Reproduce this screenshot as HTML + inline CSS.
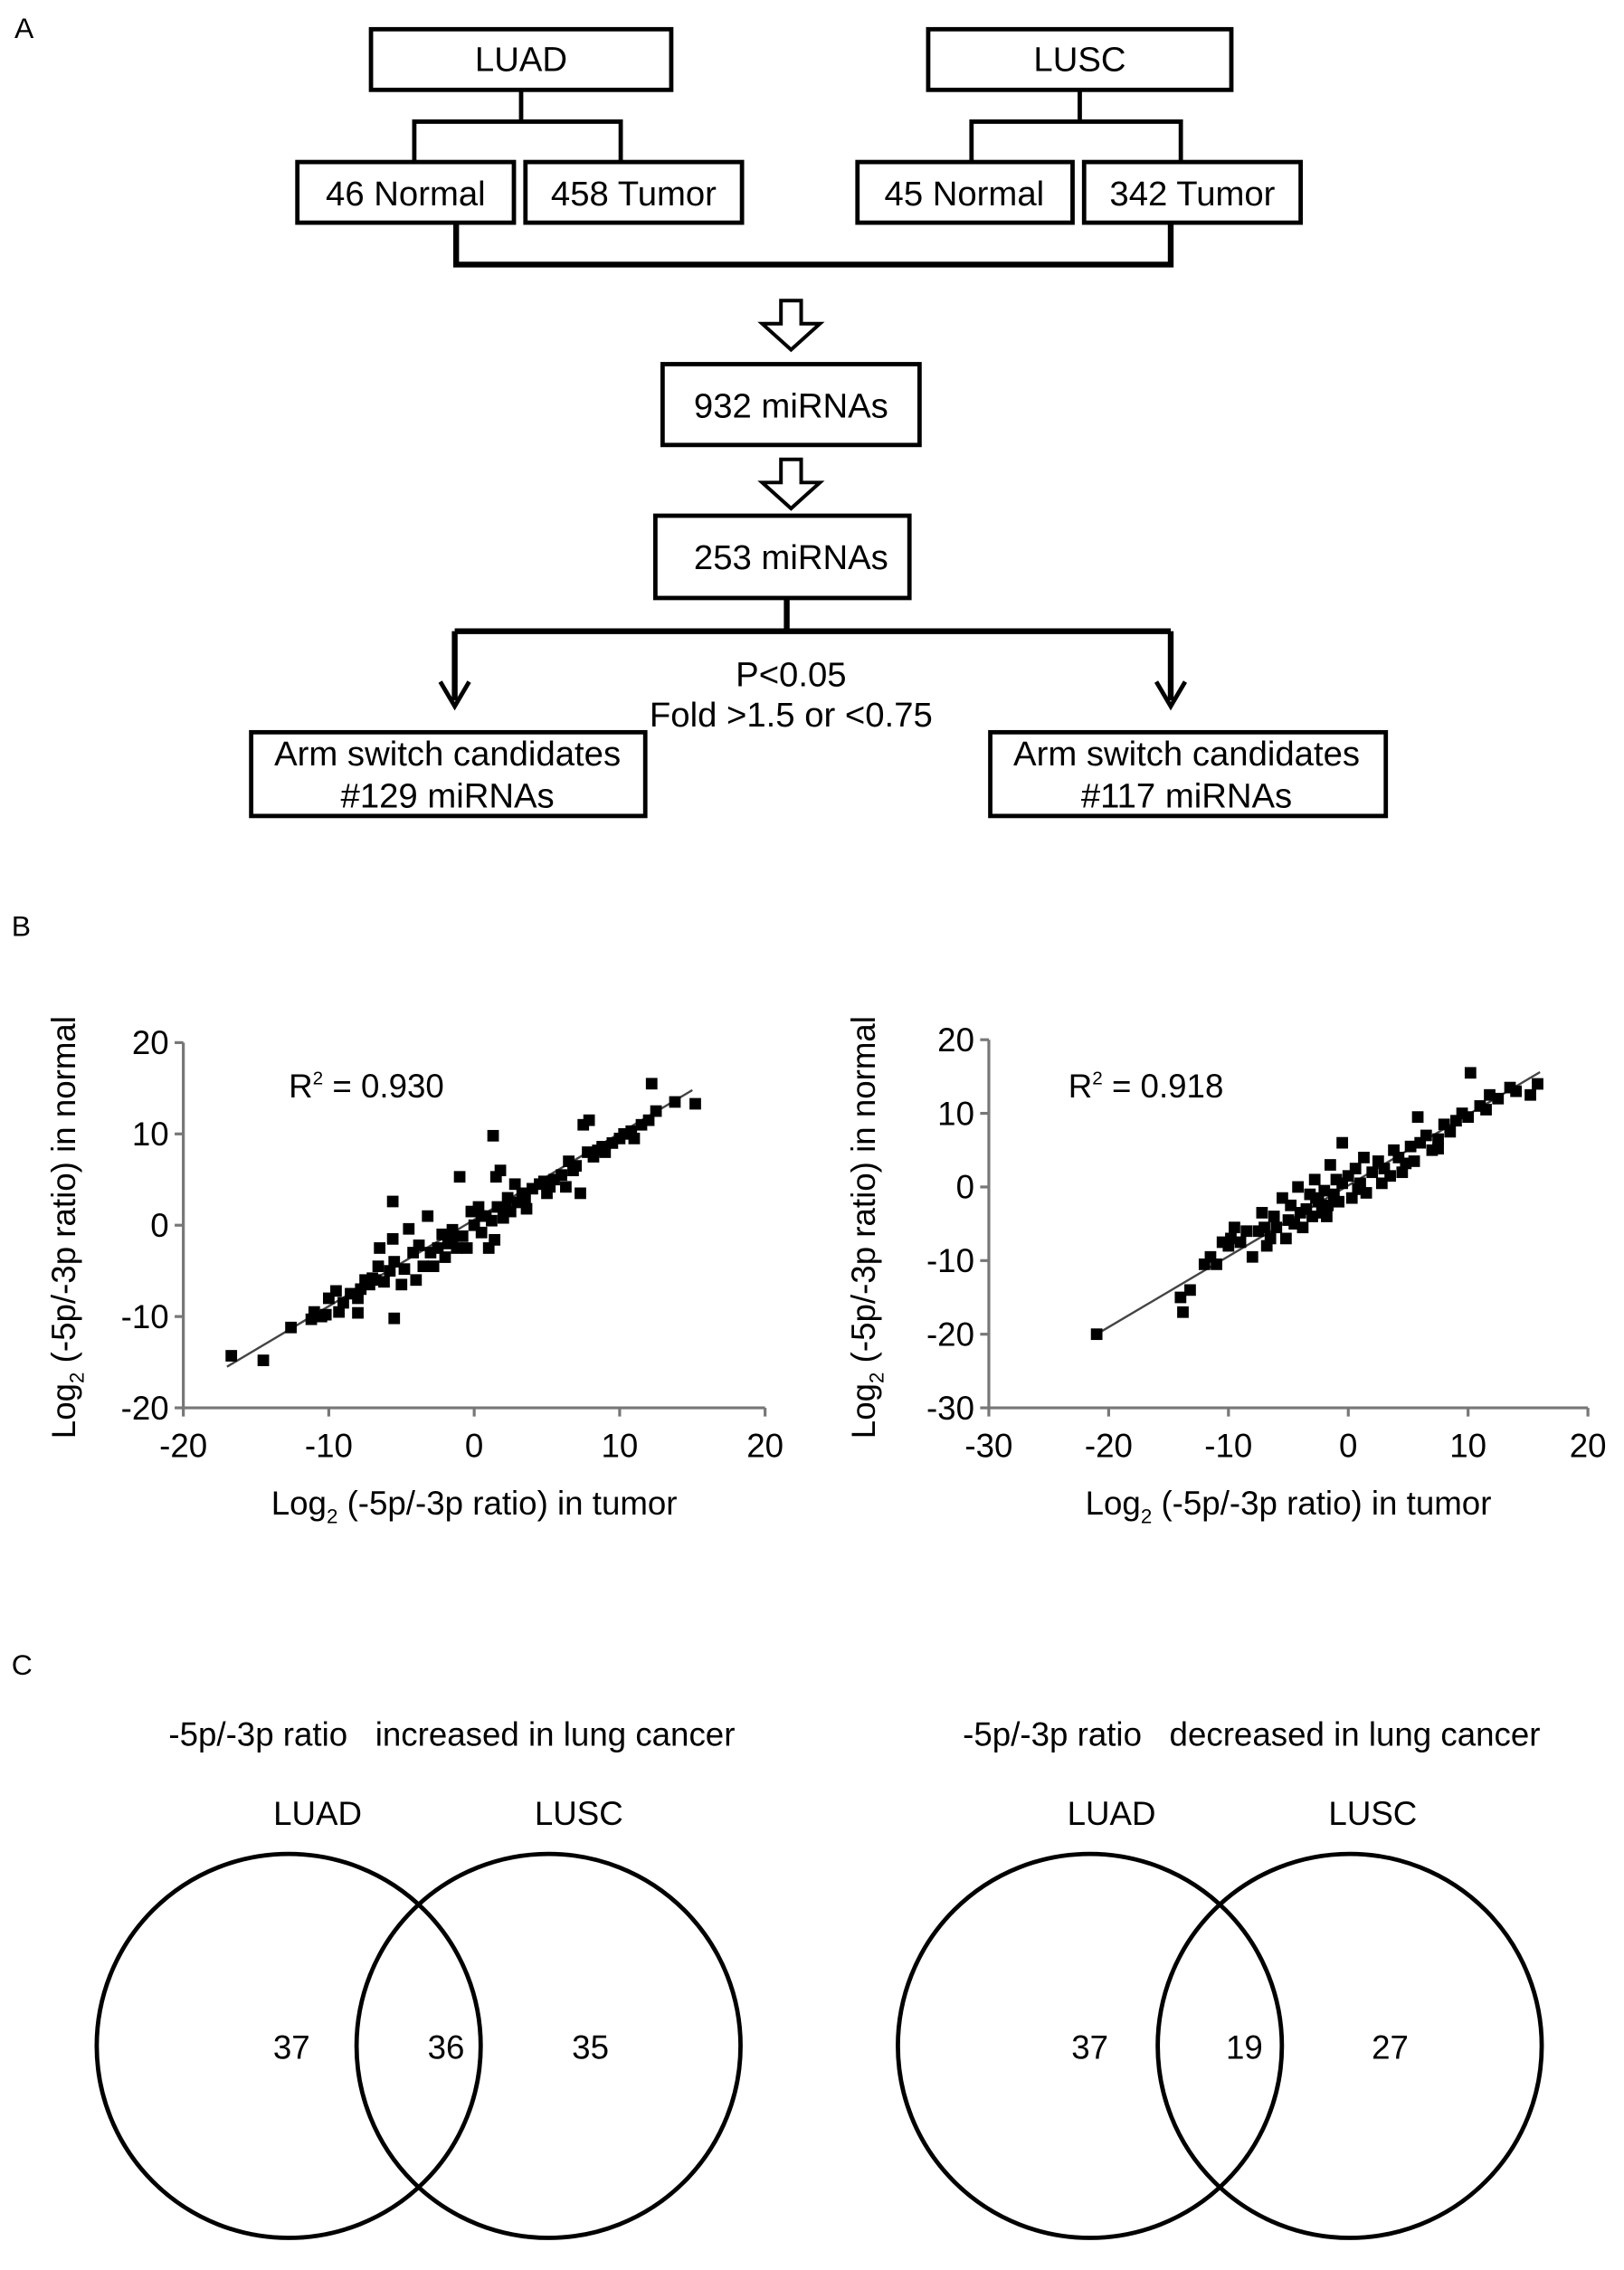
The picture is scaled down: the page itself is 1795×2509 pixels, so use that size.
<!DOCTYPE html>
<html><head><meta charset="utf-8">
<style>
html,body{margin:0;padding:0;background:#fff;}
svg{display:block;font-family:"Liberation Sans",Arial,sans-serif;}
</style></head>
<body>
<svg id="fig" width="1795" height="2509" viewBox="0 0 1125 1572" xmlns="http://www.w3.org/2000/svg">
<g fill="none" stroke="#000" stroke-width="3">
  <text x="10" y="26" font-size="20" fill="#000" stroke="none">A</text>
  <rect x="257" y="20" width="208" height="42"/>
  <rect x="643" y="20" width="210" height="42"/>
  <path d="M361 62V84M287 112V84H430V112M748 62V84M673 112V84H818V112"/>
  <rect x="206" y="112" width="150" height="42"/>
  <rect x="364" y="112" width="150" height="42"/>
  <rect x="594" y="112" width="149" height="42"/>
  <rect x="751" y="112" width="150" height="42"/>
  <path d="M316 154V183H811V154" stroke-width="4"/>
  <path d="M541 208H555V224H568L548 242L528 224H541Z" stroke-width="2.5"/>
  <rect x="459" y="252" width="178" height="56"/>
  <path d="M541 318H555V334H568L548 352L528 334H541Z" stroke-width="2.5"/>
  <rect x="454" y="357" width="176" height="57"/>
  <path d="M545 414V437M315 437H811M315 437V485M811 437V485" stroke-width="4"/>
  <path d="M305 472L315 489L325 472M801 472L811 489L821 472" stroke-width="3"/>
  <rect x="174" y="507" width="273" height="58"/>
  <rect x="686" y="507" width="274" height="58"/>
  <g fill="#000" stroke="none" font-size="24" text-anchor="middle">
    <text x="361" y="49">LUAD</text>
    <text x="748" y="49">LUSC</text>
    <text x="281" y="142">46 Normal</text>
    <text x="439" y="142">458 Tumor</text>
    <text x="668" y="142">45 Normal</text>
    <text x="826" y="142">342 Tumor</text>
    <text x="548" y="289">932 miRNAs</text>
    <text x="548" y="394">253 miRNAs</text>
    <text x="548" y="475">P&lt;0.05</text>
    <text x="548" y="503">Fold &gt;1.5 or &lt;0.75</text>
    <text x="310" y="530">Arm switch candidates</text>
    <text x="310" y="559">#129 miRNAs</text>
    <text x="822" y="530">Arm switch candidates</text>
    <text x="822" y="559">#117 miRNAs</text>
  </g>
</g>
<text x="8" y="648" font-size="20">B</text>
<g id="chartL"></g>
<g id="chartR"></g>
<g font-size="23" text-anchor="middle">
  <text x="8" y="1160" font-size="20" text-anchor="start">C</text>
  <text x="313" y="1209">-5p/-3p ratio&#160;&#160;&#160;increased in lung cancer</text>
  <text x="867" y="1209">-5p/-3p ratio&#160;&#160;&#160;decreased in lung cancer</text>
  <text x="220" y="1264">LUAD</text>
  <text x="401" y="1264">LUSC</text>
  <text x="770" y="1264">LUAD</text>
  <text x="951" y="1264">LUSC</text>
  <g fill="none" stroke="#000" stroke-width="3">
    <circle cx="200" cy="1417" r="133"/>
    <circle cx="380" cy="1417" r="133"/>
    <circle cx="755" cy="1417" r="133"/>
    <circle cx="935" cy="1417" r="133"/>
  </g>
  <text x="202" y="1426">37</text>
  <text x="309" y="1426">36</text>
  <text x="409" y="1426">35</text>
  <text x="755" y="1426">37</text>
  <text x="862" y="1426">19</text>
  <text x="963" y="1426">27</text>
</g>
</svg>
<script>
const luadX = [-16.7,-14.5,-12.6,-11.2,-11,-10.5,-10.2,-10,-9.5,-9,-9.3,-8.5,-8,-8,-7.8,-7.5,-7,-6.6,-6.5,-6.2,-5.8,-5.5,-5.6,-5.6,-5.5,-5,-4.8,-4.5,-4.2,-4,-3.5,-3.2,-3,-2.8,-2.5,-2.2,-2,-1.8,-1.5,-1.2,-1,-0.8,-0.5,0,-0.2,0.3,0.5,0.8,1,1.2,1.3,1.4,1.6,1.5,1.8,2,2.3,2.5,2.8,3,3.3,3.6,4,4.5,5,5.5,6,6.3,6.5,7,7.3,7.5,7.9,7.8,8.2,8.5,9,9.5,10,10.3,11,11.5,12,12.2,12.5,13.8,15.2,4.8,5.2,3.5,0.5,-1.5,-3.8,-6.8,-7.2,2.2,6.8,8.8,10.8];
const luadY = [-14.3,-14.8,-11.2,-10.3,-9.5,-10,-9.8,-8,-7.2,-8.5,-9.5,-7.5,-8,-9.6,-7,-6,-5.8,-4.5,-2.5,-6.2,-5,-4,-1.5,2.6,-10.2,-6.5,-4.8,-0.4,-3,-6,-4.5,1,-3,-4.5,-2.5,-1,-3.5,-2,-0.5,-2.5,5.3,-1.2,-2.5,0,1.5,2,-0.8,1,-2.5,0.5,9.8,-1.6,2,5.3,6,0.8,3,1.5,4.5,2.5,3.5,1.8,4,4.5,3.5,5,5.5,4.2,7,6.5,3.5,11,11.5,8,7.5,8.2,8,9,9.5,10,9.5,11,11.5,15.5,12.5,13.5,13.3,4.8,4.2,3,1,-1.5,-2.2,-6,-6.5,1.8,6,8.6,10.3];
const luadFit = [[-17,-15.5],[15,14.8]];
const luadXTicks = [-20,-10,0,10,20];
const luadYTicks = [-20,-10,0,10,20];

const luscX = [-21,-14,-13.8,-13.2,-12,-11.5,-11,-10.5,-10,-9.8,-9,-8.5,-8,-7.5,-7.2,-7,-6.5,-6.2,-6,-5.5,-5.2,-5,-4.8,-4.5,-4.2,-4,-3.5,-3.2,-3,-2.8,-2.5,-2.2,-2,-1.7,-1.5,-1.2,-1,-0.8,-0.5,-0.5,0,0.3,0.6,1,1.3,1.5,2,2.5,3,3.5,3.8,4.2,4.8,5.2,5.5,6,6.5,7,7.5,8,8.5,9,9.5,10,10.2,11,11.5,11.8,12.5,13.5,14,15.2,15.8,-6.8,-3.8,-1.8,0.8,2.8,4.5,-9.5,-2.7,5.8,7.5];
const luscY = [-20,-15,-17,-14,-10.5,-9.5,-10.5,-7.5,-8,-7,-7.5,-6,-9.5,-6,-3.5,-5.5,-7,-4,-5.5,-1.5,-7,-4.5,-2.5,-5,0,-3.5,-3,-1,-4,1,-2,-3.5,-0.5,-2.5,3,-1,1,-2,0.5,6,1.5,-1.5,2.5,0.5,4,-0.8,2,3.5,2.5,1.5,5,4,3.2,5.5,3.5,6,7,5,6.5,8.5,7.5,9,10,9.5,15.5,11,10.5,12.5,12,13.5,13,12.5,14,-8,-5.5,-4,-0.3,0.5,2,-5.5,-1.5,9.5,5.2];
const luscFit = [[-21,-20],[16,15.6]];
const luscXTicks = [-30,-20,-10,0,10,20];
const luscYTicks = [-30,-20,-10,0,10,20];

const NS = 'http://www.w3.org/2000/svg';
function mk(parent, tag, attrs, text) {
  const e = document.createElementNS(NS, tag);
  for (const k in attrs) e.setAttribute(k, attrs[k]);
  if (text !== undefined) e.textContent = text;
  parent.appendChild(e);
  return e;
}
function drawChart(g, cfg, xs, ys, fit, xt, yt) {
  const sx = v => cfg.x0 + (v - xt[0]) / (xt[xt.length-1] - xt[0]) * (cfg.x1 - cfg.x0);
  const sy = v => cfg.y0 - (v - yt[0]) / (yt[yt.length-1] - yt[0]) * (cfg.y0 - cfg.y1);
  const ax = mk(g, 'path', {d:`M${cfg.x0} ${cfg.y1}V${cfg.y0}H${cfg.x1}`, stroke:'#777', 'stroke-width':2, fill:'none'});
  
  
  yt.forEach(v => {
    const t = mk(g, 'path', {d:`M${cfg.x0-6} ${sy(v)}H${cfg.x0}`, stroke:'#777', 'stroke-width':2});
    
    
    const l = mk(g, 'text', {x:cfg.x0-10, y:sy(v)+8, 'font-size':23, 'text-anchor':'end'}, String(v));
    
    
  });
  xt.forEach(v => {
    const t = mk(g, 'path', {d:`M${sx(v)} ${cfg.y0}V${cfg.y0+6}`, stroke:'#777', 'stroke-width':2});
    
    
    const l = mk(g, 'text', {x:sx(v), y:cfg.y0+34, 'font-size':23, 'text-anchor':'middle'}, String(v));
    
    
  });
  const fl = mk(g, 'line', {x1:sx(fit[0][0]), y1:sy(fit[0][1]), x2:sx(fit[1][0]), y2:sy(fit[1][1]), stroke:'#444', 'stroke-width':1.5});
  
  
  xs.forEach((v, i) => {
    const p = mk(g, 'rect', {x:sx(v)-4, y:sy(ys[i])-4, width:8, height:8, fill:'#000'});
    
    
  });
  const r = mk(g, 'text', {x:cfg.rx, y:760, 'font-size':23});
  
  
  mk(r, 'tspan', {}, 'R');
  mk(r, 'tspan', {'font-size':13, dy:-9}, '2');
  mk(r, 'tspan', {dy:9}, ' = ' + cfg.r2);
  const xtl = mk(g, 'text', {x:(cfg.x0+cfg.x1)/2, y:1049, 'font-size':23, 'text-anchor':'middle'});
  
  
  mk(xtl, 'tspan', {}, 'Log');
  mk(xtl, 'tspan', {'font-size':14, dy:6}, '2');
  mk(xtl, 'tspan', {dy:-6}, ' (-5p/-3p ratio) in tumor');
  const ytl = mk(g, 'text', {x:0, y:0, 'font-size':23, 'text-anchor':'middle', transform:`translate(${cfg.ytx},850) rotate(-90)`});
  
  
  mk(ytl, 'tspan', {}, 'Log');
  mk(ytl, 'tspan', {'font-size':14, dy:6}, '2');
  mk(ytl, 'tspan', {dy:-6}, ' (-5p/-3p ratio) in normal');
}
drawChart(document.getElementById('chartL'), {x0:127,x1:530,y0:975,y1:722,rx:200,r2:'0.930',ytx:52}, luadX, luadY, luadFit, luadXTicks, luadYTicks);
drawChart(document.getElementById('chartR'), {x0:685,x1:1100,y0:975,y1:720,rx:740,r2:'0.918',ytx:606}, luscX, luscY, luscFit, luscXTicks, luscYTicks);
</script>
</body></html>
